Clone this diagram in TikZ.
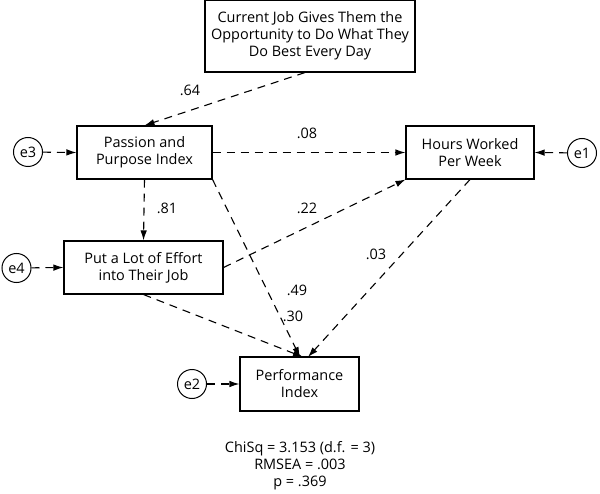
\documentclass[tikz,border=0pt]{standalone}
\usepackage{fontspec}
\setmainfont{Open Sans}
\usetikzlibrary{arrows.meta}
\begin{document}
\begin{tikzpicture}[x=1bp,y=-1bp,
  box/.style={draw,line width=1.1bp,fill=white,inner sep=0pt,font=\fontsize{14.5}{17}\selectfont,align=center},
  err/.style={draw,circle,line width=1bp,minimum size=29bp,inner sep=0pt,font=\fontsize{14.5}{17}\selectfont},
  path/.style={line width=1.1bp,dash pattern=on 8bp off 6bp,-{Latex[length=10bp,width=6.5bp]}},
  lbl/.style={font=\fontsize{14.5}{17}\selectfont}]
\useasboundingbox (0,0) rectangle (600,494);
\node[box,minimum width=210bp,minimum height=72bp] (top) at (310,36) {Current Job Gives Them the\\Opportunity to Do What They\\Do Best Every Day};
\node[box,minimum width=135bp,minimum height=53bp] (pass) at (144.5,152.5) {Passion and\\Purpose Index};
\node[box,minimum width=159bp,minimum height=53bp] (eff) at (143.5,267.5) {Put a Lot of Effort\\into Their Job};
\node[box,minimum width=128bp,minimum height=53bp] (hrs) at (470,152.5) {Hours Worked\\Per Week};
\node[box,minimum width=119bp,minimum height=54bp] (perf) at (299.5,384) {Performance\\Index};
\node[err] (e3) at (28,152) {e3};
\node[err] (e4) at (16.5,268) {e4};
\node[err] (e1) at (582,153) {e1};
\node[err] (e2) at (192,384) {e2};
\coordinate (pin) at (304,357);
\draw[path] (e3) -- (pass.west);
\draw[path] (e4) -- (eff.west);
\draw[path] (e1) -- (hrs.east);
\draw[path] (e2) -- (perf.west);
\draw[path] ([xshift=-5bp]top.south) -- (pass.north);
\draw[path] (pass.east) -- (hrs.west);
\draw[path] (pass.south) -- (eff.north);
\draw[path] (pass.south east) -- ([xshift=-4bp]pin);
\draw[path] (eff.east) -- (hrs.south west);
\draw[path] (eff.south) -- ([xshift=-1bp]pin);
\draw[path] (hrs.south) -- ([xshift=4bp]pin);
\node[lbl] (l64) at (190,90) {.64};
\node[lbl] (l08) at (307,133) {.08};
\node[lbl] (l81) at (167,208) {.81};
\node[lbl] (l22) at (307,208) {.22};
\node[lbl] (l03) at (376,254) {.03};
\node[lbl] (l49) at (297,290) {.49};
\node[lbl] (l30) at (293,316) {.30};
\node[font=\fontsize{14.5}{17}\selectfont,align=center] (fit) at (300,466) {ChiSq = 3.153 (d.f. = 3)\\RMSEA = .003\\p = .369};
\end{tikzpicture}
\end{document}
